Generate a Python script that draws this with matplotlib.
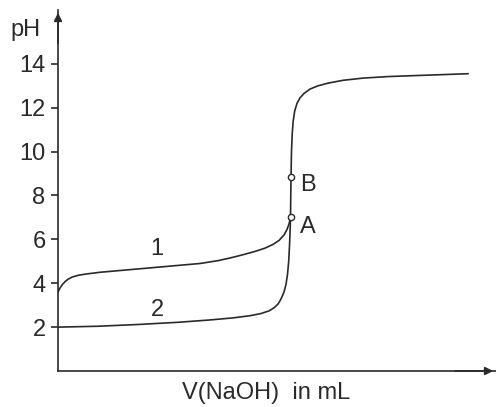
import matplotlib
matplotlib.use("Agg")
import matplotlib.pyplot as plt

plt.rcParams['font.family'] = ['Liberation Sans', 'DejaVu Sans']

# Data (volume in arbitrary units, pH)
v1 = [0, 2, 4, 7, 10, 14, 20, 28, 42, 67, 92, 117, 142, 160, 172, 185, 197, 207,
      215, 221, 226, 229, 231, 232.5]
ph1 = [3.6, 3.78, 3.92, 4.07, 4.18, 4.28, 4.36, 4.42, 4.5, 4.6, 4.7, 4.8, 4.9, 5.03,
       5.15, 5.3, 5.45, 5.6, 5.77, 5.95, 6.2, 6.45, 6.7, 7.0]

v2 = [0, 40, 80, 120, 150, 175, 192, 203, 211, 216, 220, 223, 226, 228, 229.5,
      230.7, 231.6, 232.2, 232.5, 233, 233.5, 234.2, 235.2, 236.7, 239, 242, 246,
      252, 260, 270, 285, 305, 330, 360, 410]
ph2 = [2.0, 2.04, 2.12, 2.22, 2.32, 2.42, 2.52, 2.62, 2.74, 2.88, 3.05, 3.28, 3.6,
       3.95, 4.4, 5.0, 5.8, 6.5, 7.0, 8.85, 10.0, 10.8, 11.4, 11.85, 12.2, 12.45,
       12.65, 12.85, 13.0, 13.12, 13.25, 13.35, 13.42, 13.47, 13.55]

point_names = ['A', 'B']
point_v = [232.5, 233]
point_ph = [7.0, 8.85]

curve_names = ['1', '2']
curve_label_v = [99, 99]
curve_label_ph = [5.55, 2.77]

yticks = [2, 4, 6, 8, 10, 12, 14]

W, H = 496, 407
fig = plt.figure(figsize=(W / 100, H / 100), dpi=100)
left_px, right_px, top_px, bottom_px = 58, 496, 10, 371
ax = fig.add_axes([left_px / W, 1 - bottom_px / H,
                   (right_px - left_px) / W, (bottom_px - top_px) / H])
ax.set_xlim(0, right_px - left_px)
ax.set_ylim(0, (372 - top_px) / 22)

lc = '#2a2a2a'
ax.plot(v1, ph1, color=lc, lw=1.2)
ax.plot(v2, ph2, color=lc, lw=1.2)
ax.plot(point_v, point_ph, 'o', ms=4.5, mfc='white', mec=lc, mew=1.0, zorder=5)

fs = 17
for n, x, y in zip(point_names, point_v, point_ph):
    ax.text(x + 17, y - 0.45 if n == 'A' else y - 0.35, n, fontsize=fs, ha='center', va='center', color=lc)
for n, x, y in zip(curve_names, curve_label_v, curve_label_ph):
    ax.text(x, y, n, fontsize=fs, ha='center', va='center', color=lc)

for s in ['top', 'right']:
    ax.spines[s].set_visible(False)
for s in ['left', 'bottom']:
    ax.spines[s].set_color(lc)
    ax.spines[s].set_linewidth(1.2)

ax.set_yticks(yticks)
ax.set_yticklabels([str(t) for t in yticks], fontsize=fs, color=lc)
ax.tick_params(axis='y', direction='out', length=5, width=1.2, color=lc, pad=4)
ax.set_xticks([])

# arrows
ax.annotate('', xy=(0, 1), xytext=(0, 0.9), xycoords='axes fraction',
            arrowprops=dict(arrowstyle='-|>', color=lc, lw=1.2, mutation_scale=12),
            annotation_clip=False)
ax.annotate('', xy=(1, 0), xytext=(0.9, 0), xycoords='axes fraction',
            arrowprops=dict(arrowstyle='-|>', color=lc, lw=1.2, mutation_scale=12),
            annotation_clip=False)

fig.text(26 / W, 1 - 30 / H, 'pH', fontsize=fs, ha='center', va='center', color=lc)
fig.text(266 / W, 1 - 393 / H, 'V(NaOH)  in mL', fontsize=fs, ha='center', va='center', color=lc)

fig.savefig('out.png', dpi=100)
